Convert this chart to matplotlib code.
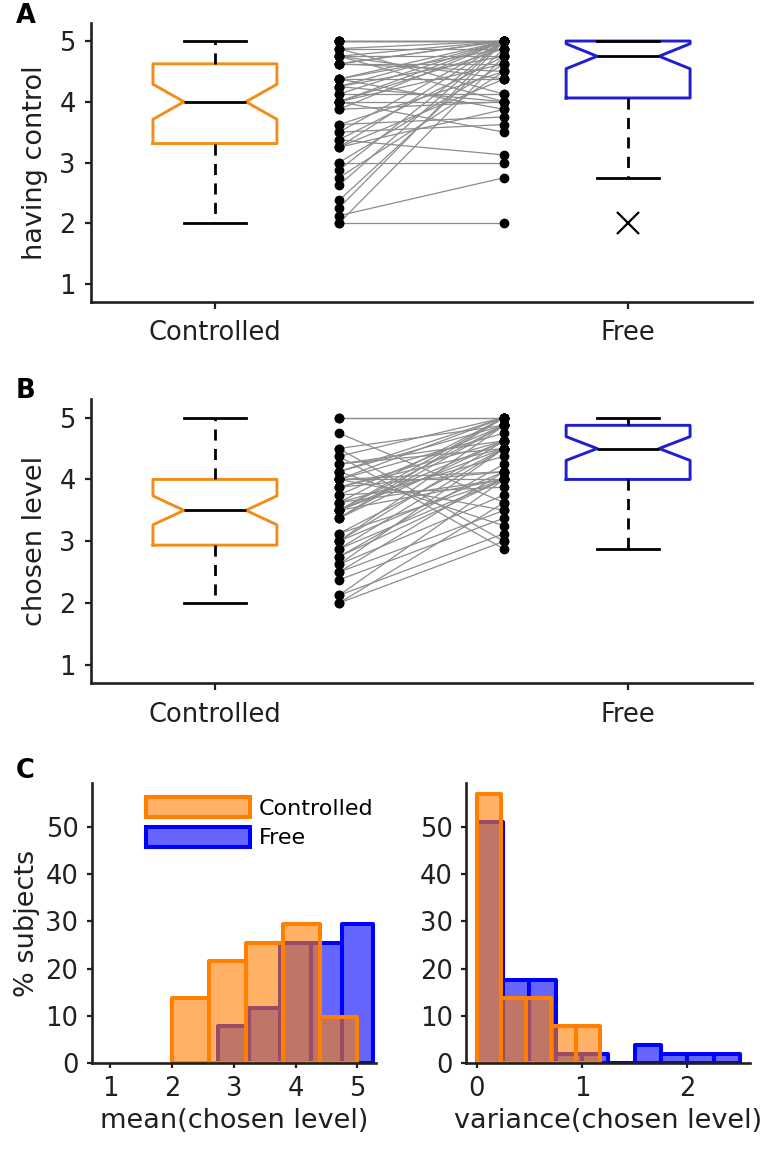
import numpy as np
import matplotlib
matplotlib.use("Agg")
import matplotlib.pyplot as plt

# rating "having control", one value per subject (same subject order in both lists)
control_ctrl = [2.0, 2.0, 2.125, 2.25, 2.375, 2.625, 2.75, 2.875, 3.0, 3.0,
                3.25, 3.25, 3.25, 3.375, 3.375, 3.5, 3.5, 3.625, 3.625, 3.875,
                3.875, 4.0, 4.0, 4.0, 4.0, 4.0, 4.125, 4.125, 4.25, 4.25,
                4.25, 4.375, 4.375, 4.375, 4.375, 4.625, 4.625, 4.625, 4.625, 4.75,
                4.75, 4.75, 4.75, 4.875, 4.875, 4.875, 5.0, 5.0, 5.0, 5.0, 5.0]
control_free = [2.0, 4.75, 2.75, 5.0, 4.875, 5.0, 4.5, 5.0, 3.0, 4.625,
                3.875, 5.0, 4.375, 3.125, 4.75, 3.625, 5.0, 3.75, 4.5, 4.0,
                5.0, 4.0, 5.0, 4.875, 3.5, 4.625, 5.0, 4.125, 4.0, 5.0,
                4.75, 4.375, 5.0, 4.875, 3.875, 4.625, 5.0, 4.5, 5.0, 4.75,
                4.0, 5.0, 4.375, 4.125, 5.0, 4.875, 5.0, 5.0, 5.0, 5.0, 5.0]

# chosen level (mean over trials), one value per subject
level_ctrl = [2.0, 2.0, 2.125, 2.125, 2.375, 2.5, 2.5, 2.625, 2.625, 2.75,
              2.75, 2.875, 2.875, 3.0, 3.0, 3.0, 3.125, 3.125, 3.375, 3.375,
              3.375, 3.5, 3.5, 3.5, 3.5, 3.5, 3.625, 3.625, 3.625, 3.75,
              3.75, 3.875, 3.875, 3.875, 4.0, 4.0, 4.0, 4.0, 4.0, 4.125,
              4.125, 4.125, 4.25, 4.25, 4.375, 4.375, 4.5, 4.5, 4.75, 5.0, 5.0]
level_free = [3.0, 3.625, 3.125, 4.0, 3.375, 4.125, 3.5, 4.5, 3.75, 4.0,
              4.25, 4.5, 4.0, 4.625, 4.125, 4.875, 4.0, 4.5, 4.625, 4.875,
              5.0, 4.0, 4.5, 4.875, 4.625, 5.0, 4.375, 4.0, 5.0, 4.875,
              3.875, 4.5, 4.125, 4.625, 5.0, 4.75, 4.0, 3.5, 4.125, 5.0,
              4.875, 3.25, 4.5, 4.625, 2.875, 5.0, 4.875, 3.0, 3.625, 5.0, 5.0]

n_subjects = 51
mean_bins_ctrl = [2.0, 2.6, 3.2, 3.8, 4.4, 5.0]
mean_bins_free = [2.75, 3.25, 3.75, 4.25, 4.75, 5.25]

# variance of chosen level: bin edges and subject counts per bin
var_edges_ctrl = [0.0, 0.235, 0.47, 0.705, 0.94, 1.175]
var_counts_ctrl = [29, 7, 7, 4, 4]
var_edges_free = [0.0, 0.25, 0.5, 0.75, 1.0, 1.25, 1.5, 1.75, 2.0, 2.25, 2.5]
var_counts_free = [26, 9, 9, 1, 1, 0, 2, 1, 1, 1]

conditions = ["Controlled", "Free"]

plt.rcParams['font.family'] = ['DejaVu Sans']
txt = '#202020'
box_orange = (0.95, 0.55, 0.1)
box_blue = (0.12, 0.12, 0.82)
h_orange = (1.0, 0.5, 0.0)
h_blue = (0.0, 0.0, 1.0)
tick_fs = 18.5
label_fs = 19.5

fig = plt.figure(figsize=(7.66, 11.53), dpi=100)
axA = fig.add_axes([0.1188, 0.7379, 0.863, 0.2423])
axB = fig.add_axes([0.1188, 0.4072, 0.863, 0.2467])
axC1 = fig.add_axes([0.1197, 0.0778, 0.3711, 0.2428])
axC2 = fig.add_axes([0.6086, 0.0778, 0.3711, 0.2428])


def paired_box(ax, ctrl, free, ylabel):
    for c, f in zip(ctrl, free):
        ax.plot([1.3, 1.7], [c, f], color='#8c8c8c', lw=0.9, zorder=1)
    ax.plot([1.3] * len(ctrl), ctrl, 'o', color='black', ms=6, zorder=2)
    ax.plot([1.7] * len(free), free, 'o', color='black', ms=6, zorder=2)
    bp = ax.boxplot([ctrl, free], positions=[1, 2], widths=0.3, notch=True,
                    whis=1.5,
                    flierprops=dict(marker='x', markersize=16, markeredgecolor='black',
                                    markeredgewidth=1.6),
                    whiskerprops=dict(color='black', lw=2.0, linestyle=(0, (4, 3))),
                    capprops=dict(color='black', lw=2.0),
                    medianprops=dict(color='black', lw=2.0),
                    boxprops=dict(lw=2.1))
    bp['boxes'][0].set_color(box_orange)
    bp['boxes'][1].set_color(box_blue)
    ax.set_xlim(0.7, 2.3)
    ax.set_ylim(0.7, 5.3)
    ax.set_yticks([1, 2, 3, 4, 5])
    ax.set_xticks([1, 2])
    ax.set_xticklabels(conditions)
    ax.set_ylabel(ylabel, fontsize=label_fs, color=txt, labelpad=8)
    ax.tick_params(axis='y', length=4, width=1.6, pad=7, labelsize=tick_fs, colors=txt)
    ax.tick_params(axis='x', length=5, width=1.6, pad=8, labelsize=tick_fs, colors=txt)


def style_hist(ax):
    ax.set_ylim(0, 59.2)
    ax.set_yticks([0, 10, 20, 30, 40, 50])
    ax.tick_params(length=3.5, width=1.6, pad=6, labelsize=tick_fs, colors=txt)


for ax in (axA, axB, axC1, axC2):
    for s in ['top', 'right']:
        ax.spines[s].set_visible(False)
    for s in ['left', 'bottom']:
        ax.spines[s].set_linewidth(1.9)
        ax.spines[s].set_color(txt)

paired_box(axA, control_ctrl, control_free, "having control")
paired_box(axB, level_ctrl, level_free, "chosen level")

# histogram of mean chosen level
w = 100.0 / n_subjects
_, _, bars_free = axC1.hist(level_free, bins=mean_bins_free, weights=[w] * n_subjects,
                            facecolor=h_blue + (0.6,), edgecolor=h_blue, lw=2.9,
                            joinstyle='round')
_, _, bars_ctrl = axC1.hist(level_ctrl, bins=mean_bins_ctrl, weights=[w] * n_subjects,
                            facecolor=h_orange + (0.6,), edgecolor=h_orange, lw=2.9,
                            joinstyle='round')
axC1.set_xlim(0.7, 5.3)
axC1.set_xticks([1, 2, 3, 4, 5])
style_hist(axC1)
axC1.set_xlabel("mean(chosen level)", fontsize=label_fs, color=txt)
axC1.set_ylabel("% subjects", fontsize=label_fs, color=txt)
axC1.legend([bars_ctrl[0], bars_free[0]], conditions, loc='upper left',
            bbox_to_anchor=(0.19, 0.95), frameon=False, fontsize=16,
            handlelength=4.7, handleheight=1.0, handletextpad=0.4,
            labelspacing=0.35, borderpad=0, borderaxespad=0)

# histogram of variance of chosen level
axC2.hist(var_edges_free[:-1], bins=var_edges_free,
          weights=[c * w for c in var_counts_free],
          facecolor=h_blue + (0.6,), edgecolor=h_blue, lw=2.9, joinstyle='round')
axC2.hist(var_edges_ctrl[:-1], bins=var_edges_ctrl,
          weights=[c * w for c in var_counts_ctrl],
          facecolor=h_orange + (0.6,), edgecolor=h_orange, lw=2.9, joinstyle='round')
axC2.set_xlim(-0.1, 2.6)
axC2.set_xticks([0, 1, 2])
style_hist(axC2)
axC2.set_xlabel("variance(chosen level)", fontsize=label_fs, color=txt)

for letter, y in [("A", 0.997), ("B", 0.6725), ("C", 0.343)]:
    fig.text(0.021, y, letter, fontsize=18.5, fontweight='bold', va='top', color='black')

fig.savefig("out.png", dpi=100)
